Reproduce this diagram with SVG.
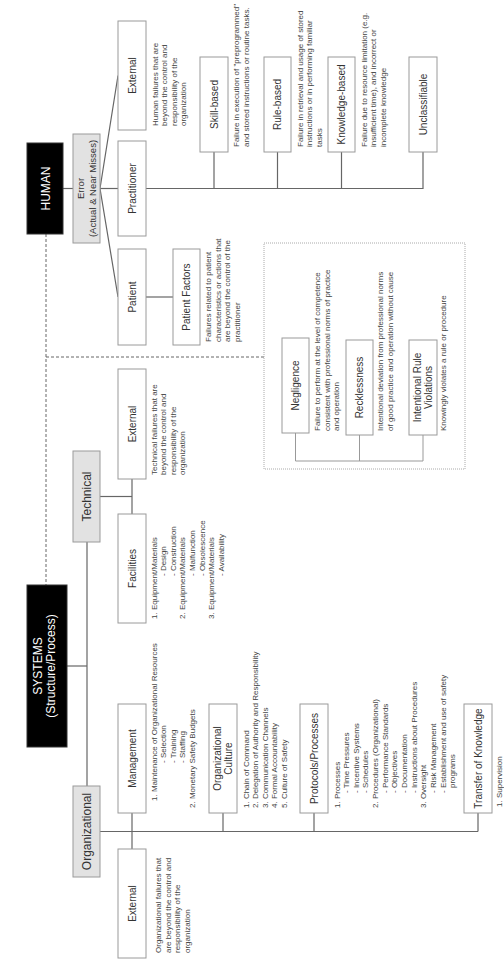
<svg xmlns="http://www.w3.org/2000/svg" width="504" height="959" viewBox="0 0 504 959">
<style>
.box{fill:#fff;stroke:#9a9a9a;stroke-width:1}
.gbox{fill:#e2e2e2;stroke:#9a9a9a;stroke-width:1}
.bbox{fill:#000;stroke:#333;stroke-width:1}
text{font-family:"Liberation Sans",Arial,sans-serif;fill:#333}
.lbl{font-size:10px;text-anchor:middle}
.sm{font-size:9.5px}
.big{font-size:12px;text-anchor:middle}
.wt{fill:#fff}
.desc{font-size:8px;fill:#444}
.conn{stroke:#666;stroke-width:1.2;fill:none}
.lconn{stroke:#999;stroke-width:1;fill:none}
.dash{stroke:#666;stroke-width:1;stroke-dasharray:3 2;fill:none}
.dot{stroke:#aaa;stroke-width:1;stroke-dasharray:1 1;fill:none}
</style>
<rect width="504" height="959" fill="#fff"/>
<g transform="translate(0,959) rotate(-90)">
<g id="connectors">
<line class="conn" x1="770.5" y1="63" x2="770.5" y2="73"/>
<polyline class="conn" points="883.5,118 770.5,100 662,118"/>
<line class="conn" x1="770.5" y1="100" x2="770.5" y2="118"/>
<polyline class="conn" points="770.5,146 770.5,423 807,423"/>
<line class="conn" x1="770.5" y1="214" x2="807" y2="214"/>
<line class="conn" x1="770.5" y1="277.5" x2="807" y2="277.5"/>
<line class="conn" x1="770.5" y1="341.5" x2="807" y2="341.5"/>
<line class="conn" x1="662" y1="146" x2="662" y2="173"/>
<polyline class="lconn" points="526,295.5 498,295.5 498,423 524,423"/>
<line class="lconn" x1="498" y1="359.5" x2="524" y2="359.5"/>
<line class="conn" x1="462.5" y1="100" x2="462.5" y2="132"/>
<line class="conn" x1="445" y1="132" x2="480" y2="132"/>
<line class="conn" x1="293" y1="67" x2="293" y2="87"/>
<line class="conn" x1="173" y1="87" x2="417" y2="87"/>
<line class="conn" x1="127.5" y1="100" x2="127.5" y2="478"/>
<line class="conn" x1="110" y1="132" x2="146" y2="132"/>
<line class="conn" x1="127.5" y1="223" x2="146" y2="223"/>
<line class="conn" x1="127.5" y1="314" x2="146" y2="314"/>
<line class="conn" x1="127.5" y1="478" x2="146" y2="478"/>
<line class="dash" x1="725" y1="46" x2="374" y2="46"/>
<line class="dash" x1="602" y1="46" x2="602" y2="264"/>
</g>
<g id="human">
<rect class="bbox" x="725" y="27" width="91" height="36"/>
<text class="big wt" x="770.5" y="49.5">HUMAN</text>
</g>
<g id="error">
<rect class="gbox" x="716" y="73" width="109" height="27"/>
<text class="lbl sm" x="770.5" y="84">Error</text>
<text class="lbl sm" x="770.5" y="96">(Actual &amp; Near Misses)</text>
</g>
<g id="human-external">
<rect class="box" x="829" y="118" width="109" height="28"/>
<text class="lbl" x="883.5" y="135.6">External</text>
<text class="desc" x="833" y="157.5"><tspan x="833">Human failures that are</tspan><tspan x="833" dy="9.6">beyond the control and</tspan><tspan x="833" dy="9.6">responsibility of the</tspan><tspan x="833" dy="9.6">organization</tspan></text>
</g>
<g id="practitioner">
<rect class="box" x="723" y="118" width="95" height="28"/>
<text class="lbl" x="770.5" y="135.6">Practitioner</text>
</g>
<g id="patient">
<rect class="box" x="614" y="118" width="96" height="28"/>
<text class="lbl" x="662" y="135.6">Patient</text>
</g>
<g id="patient-factors">
<rect class="box" x="614" y="173" width="96" height="27"/>
<text class="lbl" x="662" y="190">Patient Factors</text>
<text class="desc" x="617" y="211"><tspan x="617">Failures related to patient</tspan><tspan x="617" dy="9.6">characteristics or actions that</tspan><tspan x="617" dy="9.6">are beyond the control of the</tspan><tspan x="617" dy="9.6">practitioner</tspan></text>
</g>
<g id="skill-based">
<rect class="box" x="807" y="200" width="95" height="28"/>
<text class="lbl" x="854.5" y="217.6">Skill-based</text>
<text class="desc" x="812" y="239"><tspan x="812">Failure in execution of "preprogrammed"</tspan><tspan x="812" dy="9.6">and stored instructions or routine tasks.</tspan></text>
</g>
<g id="rule-based">
<rect class="box" x="807" y="264" width="95" height="27"/>
<text class="lbl" x="854.5" y="281">Rule-based</text>
<text class="desc" x="812" y="302.5"><tspan x="812">Failure in retrieval and usage of stored</tspan><tspan x="812" dy="9.6">instructions or in performing familiar</tspan><tspan x="812" dy="9.6">tasks</tspan></text>
</g>
<g id="knowledge-based">
<rect class="box" x="807" y="328" width="95" height="27"/>
<text class="lbl" x="854.5" y="345">Knowledge-based</text>
<text class="desc" x="812" y="366.5"><tspan x="812">Failure due to resource limitation (e.g.</tspan><tspan x="812" dy="9.6">insufficient time), and incorrect or</tspan><tspan x="812" dy="9.6">incomplete knowledge</tspan></text>
</g>
<g id="unclassifiable">
<rect class="box" x="807" y="409" width="95" height="28"/>
<text class="lbl" x="854.5" y="426.5">Unclassifiable</text>
</g>
<g id="violations-group">
<rect class="dot" x="490" y="264" width="226" height="201"/>
</g>
<g id="negligence">
<rect class="box" x="526" y="282" width="95" height="27"/>
<text class="lbl" x="573.5" y="299">Negligence</text>
<text class="desc" x="528" y="320"><tspan x="528">Failure to perform at the level of competence</tspan><tspan x="528" dy="9.6">consistent with professional norms of practice</tspan><tspan x="528" dy="9.6">and operation</tspan></text>
</g>
<g id="recklessness">
<rect class="box" x="524" y="346" width="95" height="27"/>
<text class="lbl" x="571.5" y="363">Recklessness</text>
<text class="desc" x="528" y="383"><tspan x="528">Intentional deviation from professional norms</tspan><tspan x="528" dy="9.6">of good practice and operation without cause</tspan></text>
</g>
<g id="intentional-rule-violations">
<rect class="box" x="524" y="409" width="95" height="28"/>
<text class="lbl" x="571.5" y="420.8">Intentional Rule</text>
<text class="lbl" x="571.5" y="432.3">Violations</text>
<text class="desc" x="528" y="446">Knowingly violates a rule or procedure</text>
</g>
<g id="systems">
<rect class="bbox" x="212" y="27" width="162" height="40"/>
<text class="big wt" x="293" y="41.5">SYSTEMS</text>
<text class="big wt" x="293" y="55">(Structure/Process)</text>
</g>
<g id="technical">
<rect class="gbox" x="417" y="73" width="91" height="27"/>
<text class="big" x="462.5" y="90.8">Technical</text>
</g>
<g id="technical-external">
<rect class="box" x="480" y="118" width="110" height="28"/>
<text class="lbl" x="535" y="135.6">External</text>
<text class="desc" x="484" y="156.5"><tspan x="484">Technical failures that are</tspan><tspan x="484" dy="9.6">beyond the control and</tspan><tspan x="484" dy="9.6">responsibility of the</tspan><tspan x="484" dy="9.6">organization</tspan></text>
</g>
<g id="facilities">
<rect class="box" x="336" y="118" width="109" height="28"/>
<text class="lbl" x="390.5" y="135.6">Facilities</text>
<text class="desc" x="340" y="156.5"><tspan x="340">1. Equipment/Materials</tspan><tspan x="383" dy="9.6">- Design</tspan><tspan x="383" dy="9.6">- Construction</tspan><tspan x="340" dy="9.6">2. Equipment/Materials</tspan><tspan x="383" dy="9.6">- Malfunction</tspan><tspan x="383" dy="9.6">- Obsolescence</tspan><tspan x="340" dy="9.6">3. Equipment/Materials</tspan><tspan x="383" dy="9.6">- Availability</tspan></text>
</g>
<g id="organizational">
<rect class="gbox" x="82" y="73" width="91" height="27"/>
<text class="big" x="127.5" y="90.8">Organizational</text>
</g>
<g id="organizational-external">
<rect class="box" x="1" y="118" width="109" height="28"/>
<text class="lbl" x="55.5" y="135.6">External</text>
<text class="desc" x="6" y="161"><tspan x="6">Organizational failures that</tspan><tspan x="6" dy="9.6">are beyond the control and</tspan><tspan x="6" dy="9.6">responsibility of the</tspan><tspan x="6" dy="9.6">organization</tspan></text>
</g>
<g id="management">
<rect class="box" x="146" y="118" width="109" height="28"/>
<text class="lbl" x="200.5" y="135.6">Management</text>
<text class="desc" x="158" y="156.5"><tspan x="158">1. Maintenance of Organizational Resources</tspan><tspan x="196" dy="9.6">- Selection</tspan><tspan x="196" dy="9.6">- Training</tspan><tspan x="196" dy="9.6">- Staffing</tspan><tspan x="151" dy="9.6">2. Monetary Safety Budgets</tspan></text>
</g>
<g id="organizational-culture">
<rect class="box" x="146" y="209" width="109" height="28"/>
<text class="lbl" x="200.5" y="220.8">Organizational</text>
<text class="lbl" x="200.5" y="232">Culture</text>
<text class="desc" x="151" y="248.5"><tspan x="151">1. Chain of Command</tspan><tspan x="151" dy="9.6">2. Delegation of Authority and Responsibility</tspan><tspan x="151" dy="9.6">3. Communication Channels</tspan><tspan x="151" dy="9.6">4. Formal Accountability</tspan><tspan x="151" dy="9.6">5. Culture of Safety</tspan></text>
</g>
<g id="protocols-processes">
<rect class="box" x="146" y="300" width="109" height="28"/>
<text class="lbl" x="200.5" y="317.6">Protocols/Processes</text>
<text class="desc" x="151" y="339.5"><tspan x="151">1. Processes</tspan><tspan x="166" dy="9.65">- Time Pressures</tspan><tspan x="166" dy="9.65">- Incentive Systems</tspan><tspan x="166" dy="9.65">- Schedules</tspan><tspan x="151" dy="9.65">2. Procedures (Organizational)</tspan><tspan x="166" dy="9.65">- Performance Standards</tspan><tspan x="166" dy="9.65">- Objectives</tspan><tspan x="166" dy="9.65">- Documentation</tspan><tspan x="166" dy="9.65">- Instructions about Procedures</tspan><tspan x="151" dy="9.65">3. Oversight</tspan><tspan x="166" dy="9.65">- Risk Management</tspan><tspan x="166" dy="9.65">- Establishment and use of safety</tspan><tspan x="171" dy="9.65">programs</tspan></text>
</g>
<g id="transfer-of-knowledge">
<rect class="box" x="146" y="464" width="109" height="28"/>
<text class="lbl" x="200.5" y="481.6">Transfer of Knowledge</text>
<text class="desc" x="152" y="502">1. Supervision</text>
</g>
</g>
</svg>
